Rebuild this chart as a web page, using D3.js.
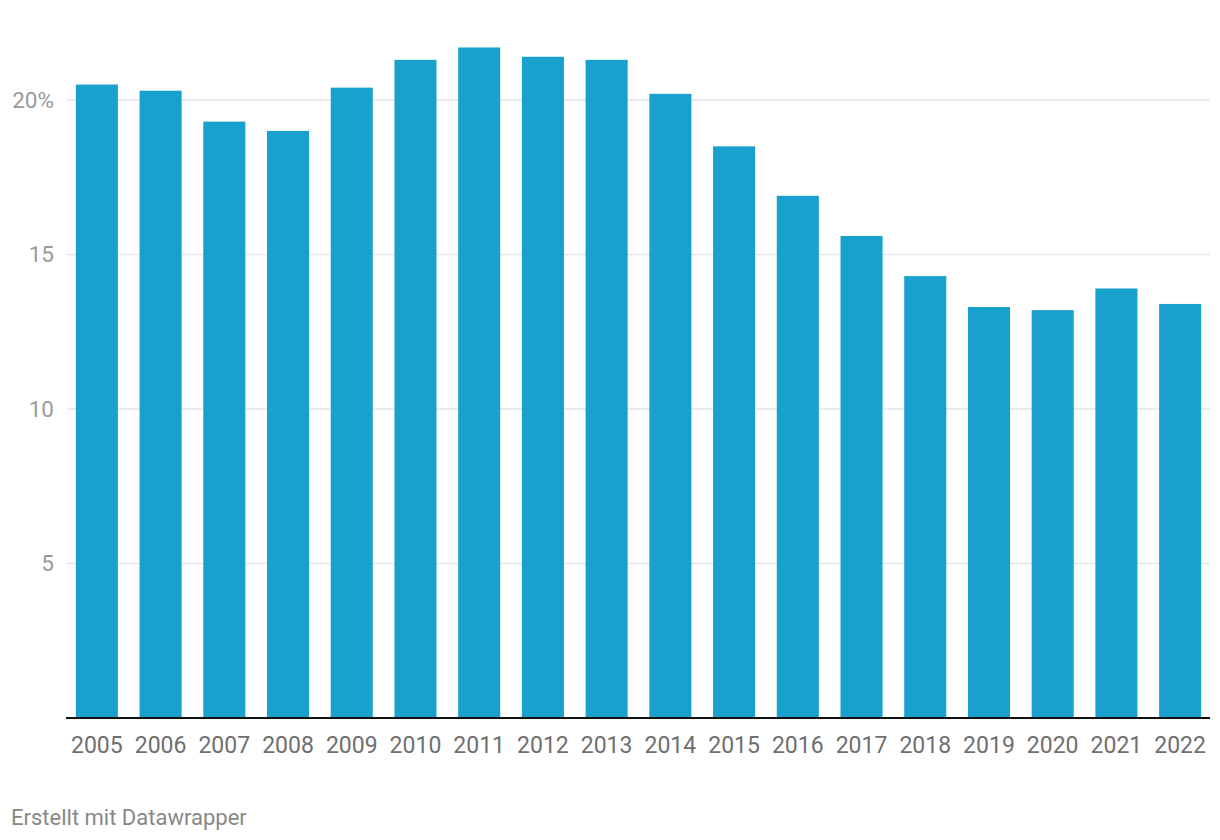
<!DOCTYPE html>
<html><head><meta charset="utf-8">
<script src="https://cdn.jsdelivr.net/npm/d3@7"></script>
<style>body{margin:0;background:#fff;font-family:Roboto,sans-serif;}</style>
</head><body>
<svg id="c" width="1220" height="840"></svg>
<script>
const years = ["2005","2006","2007","2008","2009","2010","2011","2012","2013","2014","2015","2016","2017","2018","2019","2020","2021","2022"];
const values = [20.5,20.3,19.3,19.0,20.4,21.3,21.7,21.4,21.3,20.2,18.5,16.9,15.6,14.3,13.3,13.2,13.9,13.4];
const yTicks = [5,10,15,20];
const yTickLabels = ["5","10","15","20%"];
const footer = "Erstellt mit Datawrapper";

const svg = d3.select("#c");
const x = d3.scaleBand().domain(years).range([65,1212]).paddingInner(0.34).paddingOuter(0.17);
const y = d3.scaleLinear().domain([0,20]).range([718,100]);

// gridlines
svg.append("g").selectAll("line").data(yTicks).join("line")
  .attr("x1",67).attr("x2",1210)
  .attr("y1",d=>y(d)).attr("y2",d=>y(d))
  .attr("stroke","#e5e5e5").attr("stroke-width",1.5);

svg.append("g").selectAll("text").data(yTicks).join("text")
  .attr("x",54).attr("y",d=>y(d)).attr("dy","0.35em")
  .attr("text-anchor","end").attr("fill","#9a9a9a")
  .style("font-size","22.5px").text((d,i)=>yTickLabels[i]);

svg.append("g").selectAll("rect").data(values).join("rect")
  .attr("x",(d,i)=>x(years[i])).attr("width",x.bandwidth())
  .attr("y",d=>y(d)).attr("height",d=>y(0)-y(d))
  .attr("fill","#18a1cd");

svg.append("line").attr("x1",66).attr("x2",1210).attr("y1",y(0)).attr("y2",y(0))
  .attr("stroke","#111").attr("stroke-width",2);

svg.append("g").selectAll("text").data(years).join("text")
  .attr("x",d=>x(d)+x.bandwidth()/2).attr("y",745).attr("dy","0.35em")
  .attr("text-anchor","middle").attr("fill","#6f6f6f")
  .style("font-size","23px").text(d=>d);

svg.append("text").attr("x",11).attr("y",817).attr("dy","0.35em")
  .attr("fill","#888").style("font-size","22px").text(footer);
</script>
</body></html>
